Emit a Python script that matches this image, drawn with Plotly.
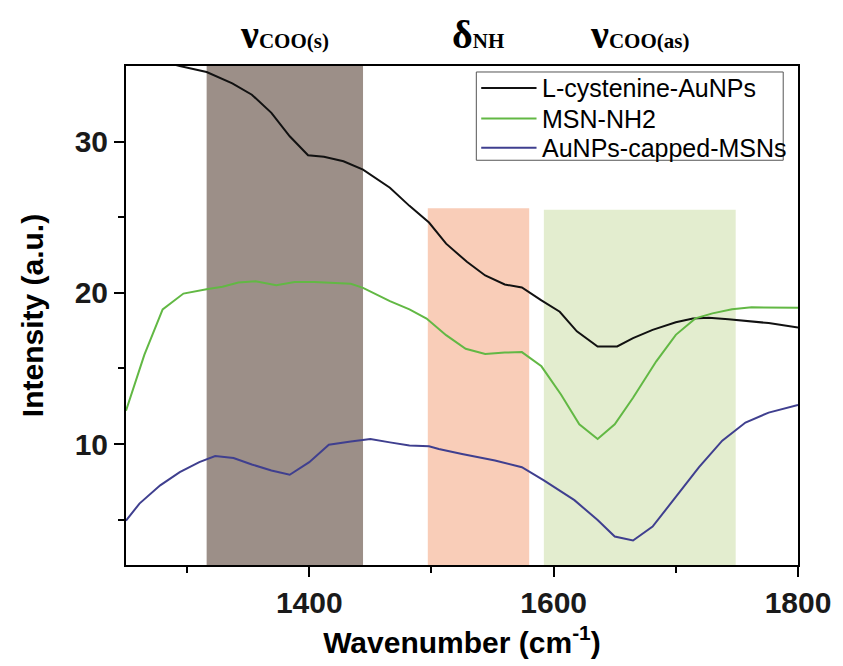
import plotly.graph_objects as go

# FTIR spectra (wavenumber in cm-1, intensity in a.u.)
black_name = "L-cystenine-AuNPs"
black_wn = [1250, 1270, 1294, 1316, 1337, 1353, 1369, 1384, 1399, 1412, 1428, 1444,
            1466, 1482, 1498, 1512, 1529, 1544, 1560, 1574, 1590, 1605, 1619, 1636,
            1652, 1665, 1681, 1700, 1714, 1727, 1743, 1759, 1776, 1800]
black_int = [36.0, 35.5, 35.0, 34.6, 33.85, 33.1, 31.9, 30.35, 29.1, 29.0, 28.7, 28.15,
             26.95, 25.75, 24.65, 23.25, 22.05, 21.15, 20.55, 20.35, 19.5, 18.75, 17.45, 16.45,
             16.45, 17.0, 17.55, 18.05, 18.3, 18.35, 18.25, 18.15, 18.0, 17.7]

green_name = "MSN-NH2"
green_wn = [1250, 1265, 1280, 1297, 1317, 1329, 1342, 1356, 1373, 1388, 1404, 1420,
            1434, 1444, 1466, 1482, 1496, 1512, 1528, 1544, 1560, 1574, 1590, 1606,
            1621, 1636, 1650, 1665, 1684, 1700, 1716, 1730, 1746, 1762, 1778, 1800]
green_int = [12.2, 15.9, 18.9, 19.95, 20.25, 20.4, 20.68, 20.76, 20.5, 20.72, 20.72, 20.63,
             20.6, 20.33, 19.45, 18.9, 18.3, 17.2, 16.3, 15.95, 16.05, 16.08, 15.14, 13.28,
             11.31, 10.33, 11.31, 13.06, 15.47, 17.22, 18.31, 18.64, 18.92, 19.04, 19.05, 19.02]

blue_name = "AuNPs-capped-MSNs"
blue_wn = [1250, 1261, 1278, 1294, 1310, 1323, 1338, 1353, 1369, 1384, 1400, 1416,
           1434, 1450, 1466, 1482, 1498, 1506, 1525, 1552, 1574, 1592, 1617, 1636,
           1650, 1665, 1681, 1700, 1719, 1738, 1757, 1776, 1800]
blue_int = [4.93, 6.06, 7.27, 8.14, 8.8, 9.21, 9.08, 8.65, 8.25, 7.97, 8.8, 9.96,
            10.16, 10.33, 10.11, 9.9, 9.85, 9.67, 9.34, 8.91, 8.47, 7.6, 6.29, 4.97,
            3.88, 3.62, 4.54, 6.5, 8.47, 10.22, 11.42, 12.08, 12.59]

# Shaded vibration bands
band_symbol = ["ν", "δ", "ν"]
band_sub = ["COO(s)", "NH", "COO(as)"]
band_lo = [1316, 1497, 1592]
band_hi = [1444, 1580, 1749]
band_top = [35.0, 25.6, 25.5]
band_color = ["#9c8f88", "#f9cdb8", "#e3edcf"]

x_ticks = [1400, 1600, 1800]
x_minor = [1300, 1500, 1700]
y_ticks = [10, 20, 30]
y_minor = [5, 15, 25]
x_range = [1250, 1800]
y_range = [2, 35]

series = [
    (black_name, black_wn, black_int, "#111111"),
    (green_name, green_wn, green_int, "#62b844"),
    (blue_name, blue_wn, blue_int, "#3f3f8f"),
]

fig = go.Figure()
for name, wn, inten, color in series:
    fig.add_trace(go.Scatter(x=wn, y=inten, mode="lines", name=name,
                             line=dict(color=color, width=2), showlegend=False))

shapes = []
annotations = []
for sym, sub, lo, hi, top, col in zip(band_symbol, band_sub, band_lo, band_hi, band_top, band_color):
    shapes.append(dict(type="rect", xref="x", yref="y", x0=lo, x1=hi, y0=y_range[0], y1=top,
                       fillcolor=col, line=dict(width=0), layer="below"))
    annotations.append(dict(
        xref="x", yref="paper", x=(lo + hi) / 2, y=1.064, xanchor="center", yanchor="middle",
        text=f"<b><span style='font-size:40px'>{sym}</span>{sub}</b>",
        showarrow=False, font=dict(family="Liberation Serif, Times New Roman, serif", size=21, color="black")))

# Legend box drawn in paper coordinates
leg_x0, leg_x1, leg_y0, leg_y1 = 0.5213, 0.978, 0.8111, 0.988
shapes.append(dict(type="rect", xref="paper", yref="paper", x0=leg_x0, x1=leg_x1, y0=leg_y0, y1=leg_y1,
                   line=dict(color="#555555", width=1), fillcolor="rgba(0,0,0,0)"))
row_y = [0.9557, 0.8946, 0.8364]
for (name, _, _, color), ry in zip(series, row_y):
    shapes.append(dict(type="line", xref="paper", yref="paper", x0=0.5286, x1=0.6109, y0=ry, y1=ry,
                       line=dict(color=color, width=2)))
    annotations.append(dict(xref="paper", yref="paper", x=0.6167, y=ry, xanchor="left", yanchor="middle",
                            text=name, showarrow=False,
                            font=dict(family="Liberation Sans, Arial, sans-serif", size=25, color="black")))

axis_common = dict(showline=True, linewidth=2, linecolor="black", mirror=True,
                   ticks="outside", ticklen=10, tickwidth=2, tickcolor="black",
                   showgrid=False, zeroline=False,
                   tickfont=dict(family="Liberation Sans, Arial, sans-serif", size=30, color="#1a1a1a", weight="bold"))

fig.update_xaxes(range=x_range, tickmode="array", tickvals=x_ticks,
                 minor=dict(tickmode="array", tickvals=x_minor, ticklen=6, tickwidth=2, tickcolor="black", ticks="outside"),
                 title=dict(text="Wavenumber (cm<sup>-1</sup>)", standoff=14,
                            font=dict(family="Liberation Sans, Arial, sans-serif", size=30, color="black", weight="bold")),
                 **axis_common)
fig.update_yaxes(range=y_range, tickmode="array", tickvals=y_ticks,
                 minor=dict(tickmode="array", tickvals=y_minor, ticklen=6, tickwidth=2, tickcolor="black", ticks="outside"),
                 title=dict(text="Intensity (a.u.)", standoff=22,
                            font=dict(family="Liberation Sans, Arial, sans-serif", size=30, color="black", weight="bold")),
                 **axis_common)

fig.update_layout(width=843, height=666, margin=dict(l=126, r=36, t=66, b=97),
                  plot_bgcolor="white", paper_bgcolor="white",
                  shapes=shapes, annotations=annotations, showlegend=False)

fig.write_html("out.html")
